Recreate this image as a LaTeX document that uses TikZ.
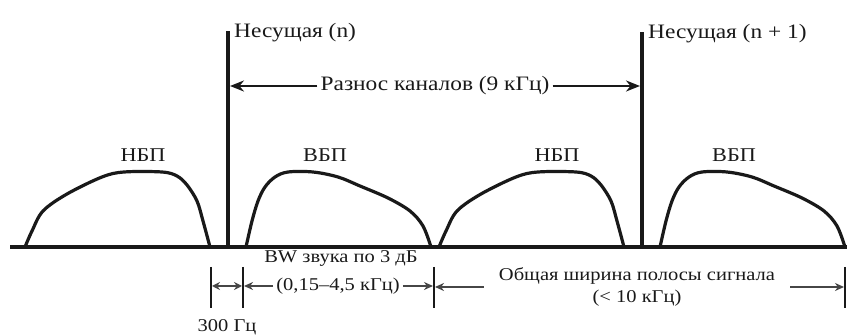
\documentclass[tikz,border=0pt]{standalone}
\usepackage{fontspec}
\setmainfont{Liberation Serif}[FakeStretch=1.14]
\usetikzlibrary{arrows.meta,positioning}
\definecolor{ink}{RGB}{25,25,25}
\definecolor{soft}{RGB}{70,70,70}

\begin{document}
\begin{tikzpicture}[x=1pt,y=-1pt,
    carrier/.style={line width=4pt,ink},
    band/.style={line width=3.2pt,ink,line join=round},
    tickline/.style={line width=2.2pt,ink},
    dim/.style={line width=1.6pt,soft},
    tip/.style={-{Stealth[length=9pt,width=8pt]}},
    big/.style={font=\fontsize{20.5}{24}\selectfont,text=ink},
    mid/.style={font=\fontsize{19.5}{22}\selectfont,text=ink},
    small/.style={font=\fontsize{18}{22}\selectfont,text=ink}]
  \useasboundingbox (0,0) rectangle (847,336);
  % frequency axis
  \coordinate (f0) at (10,247);
  \coordinate (f1) at (847,247);
  \draw[line width=4pt,ink] (f0) -- (f1);
  % carriers
  \coordinate (cn) at (228,247);
  \coordinate (cntop) at (228,31);
  \coordinate (cm) at (642,247);
  \coordinate (cmtop) at (642,32);
  \draw[carrier] (cn) -- (cntop);
  \draw[carrier] (cm) -- (cmtop);
  \node[big,anchor=base west,inner sep=1pt] (lbn) at (233,38) {Несущая (n)};
  \node[big,anchor=base west,inner sep=1pt] (lbm) at (647,39) {Несущая (n + 1)};
  % sidebands
  \foreach \cx in {228,642}{
    \draw[band,xshift=\cx] plot[smooth,tension=0.55] coordinates
      {(-203,247) (-196,231) (-185,211) (-161,194) (-126,177) (-104,172)
       (-66,172) (-51,176) (-41,185) (-31,201) (-25,221) (-18,247)};
    \draw[band,xshift=\cx] plot[smooth,tension=0.55] coordinates
      {(18,247) (24,221) (30,201) (37,187) (47,177) (60,172) (85,172)
       (110,177) (132,186) (160,198) (182,211) (195,226) (203,247)};
  }
  \node[mid] (lsbn) at (143,155) {НБП};
  \node[mid] (usbn) at (325,155) {ВБП};
  \node[mid] (lsbm) at (557,155) {НБП};
  \node[mid] (usbm) at (734,155) {ВБП};
  % channel spacing
  \node[big,inner xsep=3pt] (sp) at (435,86) {Разнос каналов (9 кГц)};
  \draw[line width=2.2pt,ink,-{Stealth[length=14pt,width=11pt]},shorten >=2pt]
    (sp.west) -- (sp.west -| cn);
  \draw[line width=2.2pt,ink,-{Stealth[length=14pt,width=11pt]},shorten >=2pt]
    (sp.east) -- (sp.east -| cm);
  % dimension ticks
  \foreach \tx/\tn in {211/ta,243/tb,434/tc,845/td}{
    \coordinate (\tn) at (\tx,267);
    \draw[tickline] (\tn) -- ++(0,41);
  }
  \coordinate (dy) at (0,286);
  \draw[dim,{Stealth[length=8pt,width=8pt]}-{Stealth[length=8pt,width=8pt]},
    shorten <=1pt,shorten >=1pt] (ta |- dy) -- (tb |- dy);
  \node[small] (hz) at (227,327) {300 Гц};
  \node[small,inner sep=1pt] (bwa) at (341,258) {BW звука по 3 дБ};
  \node[small,inner xsep=3pt] (bwb) at (338,286) {(0,15–4,5 кГц)};
  \draw[dim,tip,shorten >=1pt] (bwb.west) -- (tb |- bwb.west);
  \draw[dim,tip,shorten >=1pt] (bwb.east) -- (tc |- bwb.east);
  \node[small,align=center,inner xsep=15pt] (tot) at (637,287)
    {Общая ширина полосы сигнала\\(< 10 кГц)};
  \draw[dim,tip,shorten >=1pt] (tot.west) -- (tc |- tot.west);
  \draw[dim,tip,shorten >=1pt] (tot.east) -- (td |- tot.east);
\end{tikzpicture}
\end{document}
